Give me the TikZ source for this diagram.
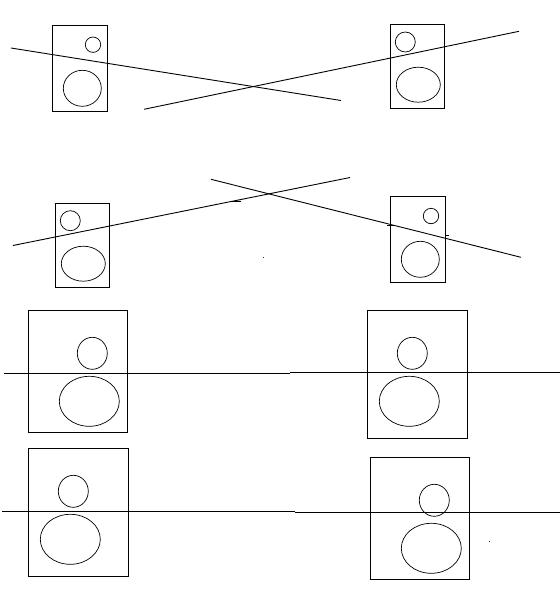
\documentclass[tikz,border=0pt]{standalone}
\usepackage{tikz}
\usetikzlibrary{positioning,shapes.geometric}

\begin{document}
\begin{tikzpicture}[
  x=1pt,y=-1pt,
  cabinet/.style={draw,rectangle,inner sep=0pt,outer sep=0pt,line width=0.9pt},
  cone/.style={draw,ellipse,inner sep=0pt,outer sep=0pt,line width=0.7pt},
  wire/.style={line width=0.9pt}
]
  \useasboundingbox (0,0) rectangle (560,590);
  % top row, angled
  \node[cabinet,minimum width=55pt,minimum height=86pt] (boxA) at (79.8,68) {};
  \node[cone,minimum width=15.4pt,minimum height=15.4pt] (tweetA) at (93,44.7) {};
  \node[cone,minimum width=38pt,minimum height=36pt] (wooferA) at (82.3,88.3) {};
  \node[cabinet,minimum width=54.4pt,minimum height=84pt] (boxB) at (417.5,66.3) {};
  \node[cone,minimum width=20pt,minimum height=20pt] (tweetB) at (405.3,42) {};
  \node[cone,minimum width=44pt,minimum height=35pt] (wooferB) at (418.3,84.7) {};
  % second row, angled
  \node[cabinet,minimum width=54pt,minimum height=84pt] (boxC) at (82.3,245) {};
  \node[cone,minimum width=20pt,minimum height=20pt] (tweetC) at (70.3,220.7) {};
  \node[cone,minimum width=44pt,minimum height=35pt] (wooferC) at (83.3,263.7) {};
  \node[cabinet,minimum width=55pt,minimum height=86pt] (boxD) at (417.8,239.3) {};
  \node[cone,minimum width=15.4pt,minimum height=15.4pt] (tweetD) at (431,216) {};
  \node[cone,minimum width=38pt,minimum height=36pt] (wooferD) at (420.3,259.3) {};
  % third row, straight
  \node[cabinet,minimum width=99pt,minimum height=121.7pt] (boxE) at (77.8,371.2) {};
  \node[cone,minimum width=30pt,minimum height=32pt] (tweetE) at (92.3,353.3) {};
  \node[cone,minimum width=60pt,minimum height=50pt] (wooferE) at (89.3,401.3) {};
  \node[cabinet,minimum width=100pt,minimum height=128pt] (boxF) at (417.3,374.3) {};
  \node[cone,minimum width=30pt,minimum height=32pt] (tweetF) at (412.3,353.3) {};
  \node[cone,minimum width=60pt,minimum height=50pt] (wooferF) at (409.3,401.3) {};
  % bottom row, straight
  \node[cabinet,minimum width=100pt,minimum height=128pt] (boxG) at (78.3,512.3) {};
  \node[cone,minimum width=30pt,minimum height=32pt] (tweetG) at (73.3,491.3) {};
  \node[cone,minimum width=60pt,minimum height=50pt] (wooferG) at (70.3,539.3) {};
  \node[cabinet,minimum width=99pt,minimum height=122pt] (boxH) at (419.8,518.3) {};
  \node[cone,minimum width=30pt,minimum height=32pt] (tweetH) at (434.3,500.3) {};
  \node[cone,minimum width=60pt,minimum height=50pt] (wooferH) at (431.3,548.3) {};
  % crossing lines
  \draw[wire] (11,48) -- (341,100.5);
  \draw[wire] (144,109.3) -- (519,31.3);
  \draw[wire] (13,245.5) -- (350,177.5);
  \draw[wire] (211,179.3) -- (521,257.3);
  % level lines
  \draw[wire] (4,373.3) -- (290,373.3);
  \draw[wire] (290,372.7) -- (560,372.7);
  \draw[wire] (2,511.3) -- (295,511.3);
  \draw[wire] (295,512) -- (560,512);
  % stray marks
  \draw[line width=0.7pt] (232,201) -- (241,201);
  \draw[line width=0.7pt] (387,225) -- (395,225);
  \draw[line width=0.7pt] (445,235) -- (449,235);
  \fill (263.5,257.5) circle (0.5pt);
  \fill (489.3,541.5) circle (0.5pt);
\end{tikzpicture}
\end{document}
